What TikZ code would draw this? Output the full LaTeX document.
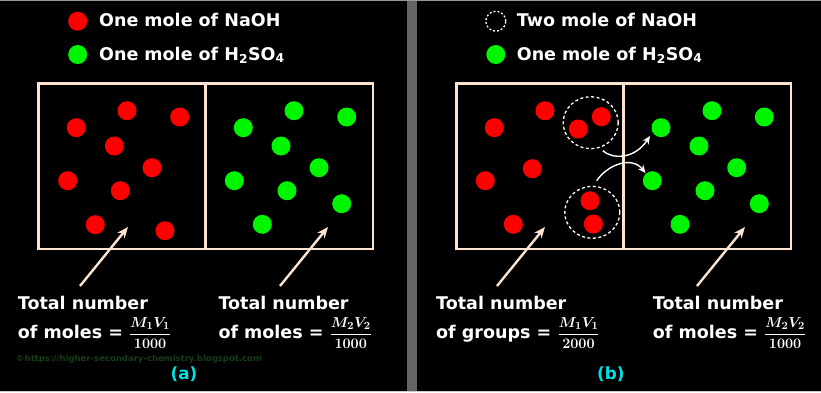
\documentclass[tikz,border=0pt]{standalone}
\usepackage{fontspec}
\setmainfont{DejaVu Sans}
\usetikzlibrary{arrows.meta}
\definecolor{beige}{RGB}{253,228,210}
\definecolor{redm}{RGB}{255,0,0}
\definecolor{greenm}{RGB}{0,245,0}
\definecolor{cyanl}{RGB}{0,225,230}
\definecolor{wmark}{RGB}{22,62,22}
\definecolor{band}{RGB}{100,100,100}
\tikzset{
  dot/.style={circle, minimum size=19pt, inner sep=0pt, fill=#1, draw=none},
  boxline/.style={draw=beige, line width=2.8pt},
  beigearrow/.style={draw=beige, line width=2.4pt, -{Stealth[length=11pt,width=9pt]}},
  whitearrow/.style={draw=white, line width=1.4pt, -{Stealth[length=8pt,width=7pt]}},
  txt/.style={text=white, font=\fontsize{17.5}{20}\selectfont\bfseries, inner sep=0pt, anchor=base west},
  lbl/.style={text=cyanl, font=\fontsize{16.8}{20}\selectfont\bfseries, inner sep=0pt, anchor=base},
}
\newcommand{\fracM}[3]{{\fontsize{15.5}{18}\selectfont\boldmath$\displaystyle\frac{M_{#1}V_{#2}}{#3}$}}
\begin{document}
\begin{tikzpicture}[x=1pt,y=-1pt]
\useasboundingbox (0,0) rectangle (821,392);
\fill[black] (0,0) rectangle (821,392);
\fill[band] (407,0) rectangle (417,392);
\draw[gray!80, line width=1pt] (0,0.5) -- (821,0.5);
\draw[gray!40, line width=1pt] (0,391.5) -- (821,391.5);

% ---------- legends ----------
\node[dot=redm] (la1) at (77.7,21.2) {};
\node[txt] (lt1) at (99,26.7) {One mole of NaOH};
\node[dot=greenm] (la2) at (77.7,54.5) {};
\node[txt] (lt2) at (99,60) {One mole of H\textsubscript{2}SO\textsubscript{4}};

\node[circle, minimum size=20pt, inner sep=0pt, draw=white, line width=1.3pt, dash pattern=on 2pt off 2pt] (lb1) at (495.8,21.2) {};
\node[txt] (lbt1) at (516.7,26.7) {Two mole of NaOH};
\node[dot=greenm] (lb2) at (495.8,54.5) {};
\node[txt] (lbt2) at (516.7,60) {One mole of H\textsubscript{2}SO\textsubscript{4}};

% ---------- panel (a) ----------
\draw[boxline] (38.3,83.3) rectangle (373,249);
\draw[boxline] (205.7,83.3) -- (205.7,249);

\foreach \x/\y [count=\i] in {76.3/127.7, 127/110.7, 179.7/117, 114.3/146, 152/167.7, 67.7/180.7, 120.3/190.7, 95.3/224.7, 165/230.7}
  \node[dot=redm] (ar\i) at (\x,\y) {};
\foreach \x/\y [count=\i] in {243.3/127.7, 294/110.7, 346.7/117, 281/146, 319/167.7, 234.3/180.7, 287/190.7, 341.7/203.7, 262.3/224.3}
  \node[dot=greenm] (ag\i) at (\x,\y) {};

\coordinate (aa1s) at (80,286);
\coordinate (aa1e) at (128,227);
\coordinate (aa2s) at (280,286);
\coordinate (aa2e) at (328,227);
\draw[beigearrow] (aa1s) -- (aa1e);
\draw[beigearrow] (aa2s) -- (aa2e);

\node[txt] (at1) at (17.7,309.3) {Total number};
\node[txt] (at2) at (17.7,338) {of moles = \fracM{1}{1}{1000}};
\node[txt] (at3) at (218.3,309.3) {Total number};
\node[txt] (at4) at (218.3,338) {of moles = \fracM{2}{2}{1000}};

\node[inner sep=0pt, anchor=base west, text=wmark, font=\fontsize{8.5}{9}\selectfont\bfseries] (wm) at (16,361) {©https://higher-secondary-chemistry.blogspot.com};

\node[lbl] (la) at (184,379.5) {(a)};

% ---------- panel (b) ----------
\draw[boxline] (456.7,83.3) rectangle (791,249);
\draw[boxline] (623.3,83.3) -- (623.3,249);

\foreach \x/\y [count=\i] in {494.3/127.7, 545/110.7, 532.3/168.7, 485.3/180.7, 513.3/224.3, 578.3/129, 601.3/116.7, 590/200.7, 593.3/224}
  \node[dot=redm] (br\i) at (\x,\y) {};
\foreach \x/\y [count=\i] in {661/127.7, 712/110.7, 764.3/117, 699/146, 736.7/167.7, 652.3/180.7, 705/190.7, 759.3/203.7, 680/224.3}
  \node[dot=greenm] (bg\i) at (\x,\y) {};

\draw[white, line width=1.3pt, dash pattern=on 3pt off 2.5pt] (590.7,122.7) ellipse [x radius=27.5pt, y radius=26pt];
\draw[white, line width=1.3pt, dash pattern=on 3pt off 2.5pt] (592.3,212.3) ellipse [x radius=27.5pt, y radius=26pt];

\coordinate (c1s) at (602.7,150.7);
\coordinate (c1e) at (650,136);
\coordinate (c2s) at (596.7,180.7);
\coordinate (c2e) at (645.5,173);
\draw[whitearrow] (c1s) .. controls (612,159) and (634,160) .. (c1e);
\draw[whitearrow] (c2s) .. controls (608,164) and (632,156) .. (c2e);

\coordinate (ba1s) at (497,286);
\coordinate (ba1e) at (545,227);
\coordinate (ba2s) at (697,286);
\coordinate (ba2e) at (745,227);
\draw[beigearrow] (ba1s) -- (ba1e);
\draw[beigearrow] (ba2s) -- (ba2e);

\node[txt] (bt1) at (436,309.3) {Total number};
\node[txt] (bt2) at (436,338) {of groups = \fracM{1}{1}{2000}};
\node[txt] (bt3) at (652.7,309.3) {Total number};
\node[txt] (bt4) at (652.7,338) {of moles = \fracM{2}{2}{1000}};

\node[lbl] (lbb) at (610.8,379.5) {(b)};
\end{tikzpicture}
\end{document}
